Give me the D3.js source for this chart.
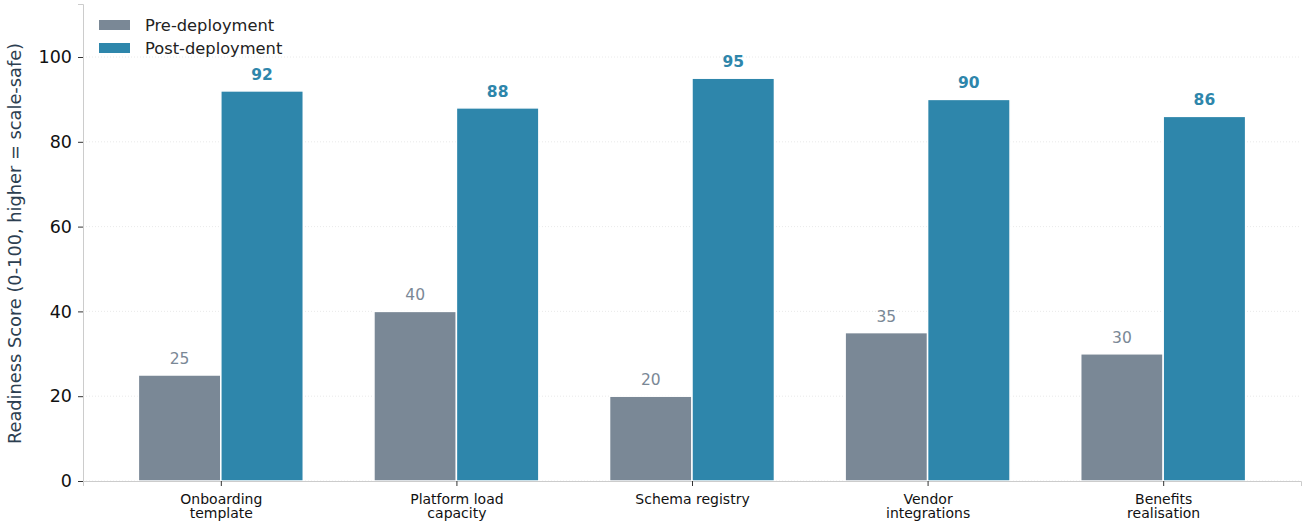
<!DOCTYPE html>
<html>
<head>
<meta charset="utf-8">
<script src="https://cdn.jsdelivr.net/npm/d3@7"></script>
<style>
  body { margin: 0; background: #fff; }
  text { font-family: "DejaVu Sans", sans-serif; }
</style>
</head>
<body>
<div class="chart"></div>
<script>
// chart data
var categories = [["Onboarding", "template"], ["Platform load", "capacity"], ["Schema registry"], ["Vendor", "integrations"], ["Benefits", "realisation"]];
var preValues = [25, 40, 20, 35, 30];
var postValues = [92, 88, 95, 90, 86];
var seriesNames = ["Pre-deployment", "Post-deployment"];
var yTicks = [0, 20, 40, 60, 80, 100];

var preColor = "#7a8896",
    postColor = "#2e86ab";

var svgWidth = 1303,
    svgHeight = 522,
    margin = {top: 4, right: 2, bottom: 41, left: 83},
    width = svgWidth - margin.left - margin.right,
    height = svgHeight - margin.top - margin.bottom;

var svg = d3.select(".chart")
    .append("svg")
    .attr("width", svgWidth)
    .attr("height", svgHeight)
    .append("g")
    .attr("transform", "translate(" + margin.left + "," + margin.top + ")");

// x in category units, like matplotlib (bars at i -/+ 0.35/2)
var barW = 0.35;
var x = d3.scaleLinear().domain([-0.585, categories.length - 1 + 0.585]).range([0, width]);
var y = d3.scaleLinear().domain([0, 112.5]).range([height, 0]);

// grid
svg.append("g")
    .selectAll("line")
    .data(yTicks)
    .enter().append("line")
    .attr("x1", 0)
    .attr("x2", width)
    .attr("y1", function(d) { return y(d); })
    .attr("y2", function(d) { return y(d); })
    .attr("stroke", "#e4e4e4")
    .attr("stroke-width", 0.8)
    .attr("stroke-dasharray", "1,2");

// bars
var groups = svg.append("g").selectAll("g")
    .data(categories)
    .enter().append("g");

groups.append("rect")
    .attr("x", function(d, i) { return x(i - barW); })
    .attr("y", function(d, i) { return y(preValues[i]); })
    .attr("width", x(barW) - x(0))
    .attr("height", function(d, i) { return y(0) - y(preValues[i]); })
    .attr("fill", preColor)
    .attr("stroke", "#fff")
    .attr("stroke-width", 1.5);

groups.append("rect")
    .attr("x", function(d, i) { return x(i); })
    .attr("y", function(d, i) { return y(postValues[i]); })
    .attr("width", x(barW) - x(0))
    .attr("height", function(d, i) { return y(0) - y(postValues[i]); })
    .attr("fill", postColor)
    .attr("stroke", "#fff")
    .attr("stroke-width", 1.5);

// value labels
groups.append("text")
    .attr("x", function(d, i) { return x(i - barW / 2); })
    .attr("y", function(d, i) { return y(preValues[i]) - 11; })
    .attr("text-anchor", "middle")
    .attr("font-size", 15.5)
    .attr("fill", preColor)
    .text(function(d, i) { return preValues[i]; });

groups.append("text")
    .attr("x", function(d, i) { return x(i + barW / 2); })
    .attr("y", function(d, i) { return y(postValues[i]) - 11; })
    .attr("text-anchor", "middle")
    .attr("font-size", 15.5)
    .attr("font-weight", "bold")
    .attr("fill", postColor)
    .text(function(d, i) { return postValues[i]; });

// y axis
var yAxis = svg.append("g")
    .call(d3.axisLeft(y).tickValues(yTicks).tickSize(5).tickPadding(6));
yAxis.select(".domain").attr("stroke", "#cccccc");
yAxis.selectAll(".tick line").attr("stroke", "#333");
yAxis.selectAll(".tick text").attr("font-size", 17.5).attr("fill", "#111").attr("font-family", "DejaVu Sans, sans-serif");

// x axis
var xAxis = svg.append("g")
    .attr("transform", "translate(0," + height + ")")
    .call(d3.axisBottom(x).tickValues(d3.range(categories.length)).tickSize(5).tickFormat(""));
xAxis.select(".domain").attr("stroke", "#cccccc");
xAxis.selectAll(".tick line").attr("stroke", "#333");

xAxis.selectAll(".tick").append("text")
    .attr("fill", "#111")
    .attr("font-size", 14)
    .attr("text-anchor", "middle")
    .attr("font-family", "DejaVu Sans, sans-serif")
    .selectAll("tspan")
    .data(function(d) { return categories[d]; })
    .enter().append("tspan")
    .attr("x", 0)
    .attr("y", function(d, j) { return 23 + j * 14; })
    .text(function(d) { return d; });

// y label
svg.append("text")
    .attr("transform", "rotate(-90)")
    .attr("x", -239.5)
    .attr("y", -62.5)
    .attr("text-anchor", "middle")
    .attr("font-size", 17.8)
    .attr("fill", "#2c3e50")
    .text("Readiness Score (0-100, higher = scale-safe)");

// legend
var legend = svg.append("g")
    .attr("transform", "translate(16,16)");
var legendColors = [preColor, postColor];
var items = legend.selectAll("g")
    .data(seriesNames)
    .enter().append("g")
    .attr("transform", function(d, i) { return "translate(0," + i * 23 + ")"; });
items.append("rect")
    .attr("width", 31)
    .attr("height", 10)
    .attr("fill", function(d, i) { return legendColors[i]; });
items.append("text")
    .attr("x", 46)
    .attr("y", 10.5)
    .attr("font-size", 16.3)
    .attr("fill", "#222")
    .text(function(d) { return d; });
</script>
</body>
</html>
